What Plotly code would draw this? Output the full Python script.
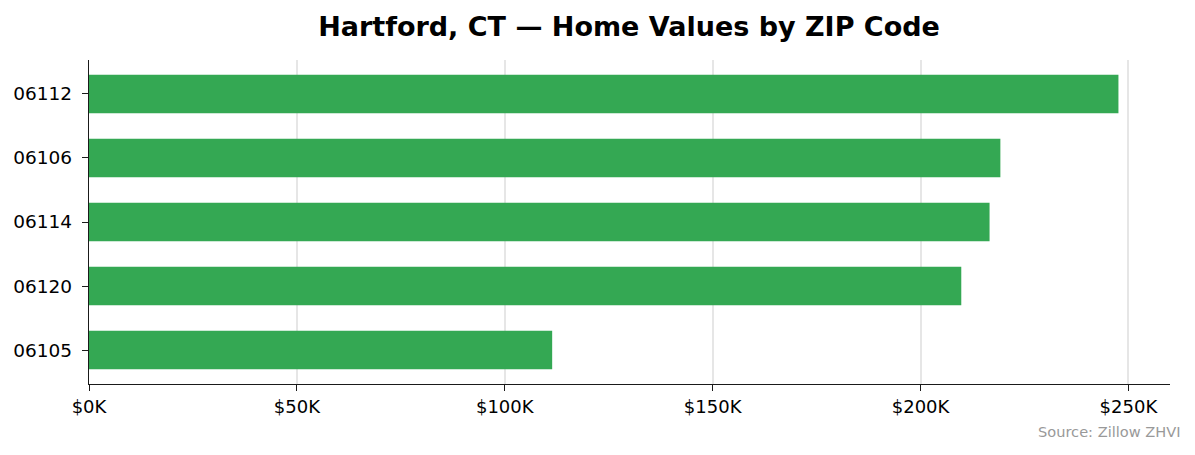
import plotly.graph_objects as go

zips = ["06105", "06120", "06114", "06106", "06112"]
values = [111400, 209800, 216600, 219200, 247600]
x_tick_vals = [0, 50000, 100000, 150000, 200000, 250000]
x_tick_text = ["$0K", "$50K", "$100K", "$150K", "$200K", "$250K"]

FONT = "DejaVu Sans"

fig = go.Figure(go.Bar(
    y=zips, x=values, orientation="h",
    marker=dict(color="#34A853", line=dict(width=0)),
    width=0.6,
))

fig.update_layout(
    width=1195, height=455,
    margin=dict(l=89, r=25, t=60, b=71),
    paper_bgcolor="white", plot_bgcolor="white",
    title=dict(text="<b>Hartford, CT — Home Values by ZIP Code</b>",
               x=(317 + 941) / 2 / 1195, xanchor="center", y=1 - 27/455, yanchor="middle",
               font=dict(family=FONT, size=27, color="black")),
    font=dict(family=FONT, size=18, color="black"),
    showlegend=False,
    xaxis=dict(range=[0, 260000], tickvals=x_tick_vals, ticktext=x_tick_text,
               showgrid=True, gridcolor="#e6e6e6", gridwidth=1.5,
               showline=True, linecolor="#1a1a1a", linewidth=1.3,
               ticks="outside", ticklen=6, tickcolor="#1a1a1a", tickwidth=1.3,
               zeroline=False, tickfont=dict(family=FONT, size=18, color="black")),
    yaxis=dict(type="category", range=[-0.53, 4.53],
               showgrid=False, showline=True, linecolor="#1a1a1a", linewidth=1.3,
               ticks="outside", ticklen=6, tickcolor="#1a1a1a", tickwidth=1.3,
               ticklabelstandoff=6,
               zeroline=False, tickfont=dict(family=FONT, size=18.5, color="black")),
    annotations=[dict(text="Source: Zillow ZHVI", xref="paper", yref="paper",
                      x=1 + 13/1081, y=-(432-384)/325, xanchor="right", yanchor="middle",
                      showarrow=False, font=dict(family=FONT, size=14.6, color="#999999"))],
)

html = fig.to_html(full_html=True, include_plotlyjs=True, config={"displayModeBar": False})
html = html.replace("<body>", '<body style="margin:0;padding:0">', 1)
html = html.replace("<head>", '<head><style>html,body{margin:0;padding:0;}</style>', 1)
with open("out.html", "w", encoding="utf-8") as f:
    f.write(html)
